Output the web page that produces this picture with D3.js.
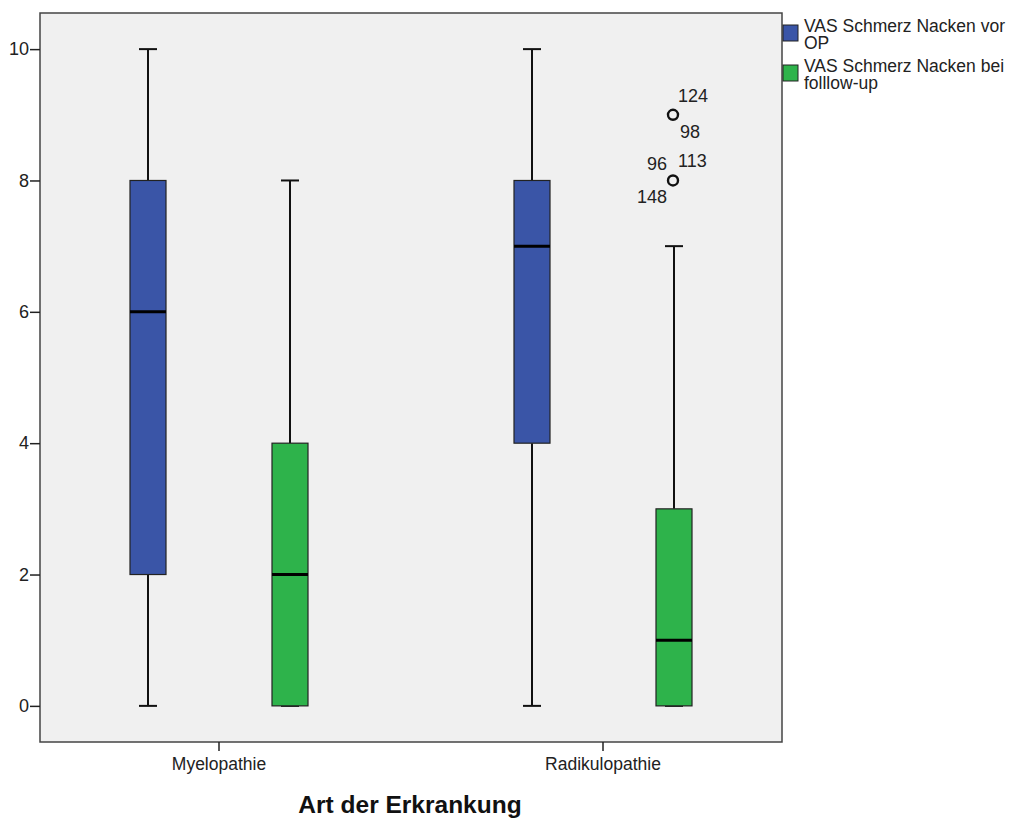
<!DOCTYPE html>
<html><head><meta charset="utf-8">
<script src="https://cdn.jsdelivr.net/npm/d3@7"></script>
<style>body{margin:0;background:#fff;}svg{display:block;font-family:Arial,"Liberation Sans",sans-serif;}</style>
</head><body>
<svg id="c" width="1019" height="819"></svg>
<script>
const categories = ["Myelopathie", "Radikulopathie"];
const seriesNames = ["VAS Schmerz Nacken vor OP", "VAS Schmerz Nacken bei folllow-up"];
const seriesColors = ["#3A55A7", "#2EB34B"];
// [min, q1, median, q3, max] per category
const vorOP = [[0, 2, 6, 8, 10], [0, 4, 7, 8, 10]];
const followUp = [[0, 0, 2, 4, 8], [0, 0, 1, 3, 7]];
const outliers = [
  {cat: "Radikulopathie", series: 1, value: 9, labels: ["124", "98"]},
  {cat: "Radikulopathie", series: 1, value: 8, labels: ["96", "113", "148"]}
];
const yTicks = [0, 2, 4, 6, 8, 10];
const legendLines = [["VAS Schmerz Nacken vor", "OP"], ["VAS Schmerz Nacken bei", "folllow-up"]];

const svg = d3.select("#c");
const L = 40, T = 13, R = 782, B = 742;
const y = d3.scaleLinear().domain([-0.55, 10.55]).range([B, T]);
const x = d3.scaleBand().domain(categories).range([27, 795]).padding(0);
const sub = d3.scaleBand().domain([0, 1]).range([-142, 142]).paddingInner(0).paddingOuter(0);

svg.append("rect").attr("x", L).attr("y", T).attr("width", R - L).attr("height", B - T)
  .attr("fill", "#F0F0F0").attr("stroke", "#444").attr("stroke-width", 1.5);

// y axis
const yAxis = d3.axisLeft(y).tickValues(yTicks).tickSize(10).tickPadding(1).tickSizeOuter(0).tickFormat(d3.format("d"));
const gy = svg.append("g").attr("transform", `translate(${L},0)`).call(yAxis);
gy.select(".domain").remove();
gy.selectAll("line").attr("stroke", "#222").attr("stroke-width", 1.5);
gy.selectAll("text").attr("font-size", 18).attr("fill", "#222").attr("font-family", "Arial, 'Liberation Sans', sans-serif");

// x axis
const xAxis = d3.axisBottom(x).tickSize(9).tickSizeOuter(0);
const gx = svg.append("g").attr("transform", `translate(0,${B})`).call(xAxis);
gx.select(".domain").remove();
gx.selectAll("line").attr("stroke", "#222").attr("stroke-width", 1.5);
gx.selectAll("text").attr("font-size", 17.5).attr("fill", "#222").attr("y", 28).attr("dy", 0).attr("font-family", "Arial, 'Liberation Sans', sans-serif");

svg.append("text").attr("x", 410).attr("y", 813).attr("text-anchor", "middle")
  .attr("font-size", 24.5).attr("font-weight", "bold").attr("fill", "#111").text("Art der Erkrankung");

const boxW = 36, capW = 18;
[vorOP, followUp].forEach((series, si) => {
  series.forEach((s, ci) => {
    const cx = x(categories[ci]) + x.bandwidth() / 2 + sub(si) + sub.bandwidth() / 2;
    const g = svg.append("g");
    g.append("line").attr("x1", cx).attr("x2", cx).attr("y1", y(s[0])).attr("y2", y(s[1])).attr("stroke", "#111").attr("stroke-width", 2);
    g.append("line").attr("x1", cx).attr("x2", cx).attr("y1", y(s[3])).attr("y2", y(s[4])).attr("stroke", "#111").attr("stroke-width", 2);
    g.append("line").attr("x1", cx - capW / 2).attr("x2", cx + capW / 2).attr("y1", y(s[0])).attr("y2", y(s[0])).attr("stroke", "#111").attr("stroke-width", 2);
    g.append("line").attr("x1", cx - capW / 2).attr("x2", cx + capW / 2).attr("y1", y(s[4])).attr("y2", y(s[4])).attr("stroke", "#111").attr("stroke-width", 2);
    g.append("rect").attr("x", cx - boxW / 2).attr("y", y(s[3])).attr("width", boxW).attr("height", y(s[1]) - y(s[3]))
      .attr("fill", seriesColors[si]).attr("stroke", "#222").attr("stroke-width", 1.2);
    g.append("line").attr("x1", cx - boxW / 2).attr("x2", cx + boxW / 2).attr("y1", y(s[2])).attr("y2", y(s[2])).attr("stroke", "#000").attr("stroke-width", 3);
  });
});

// outliers
outliers.forEach(o => {
  const cx = x(o.cat) + x.bandwidth() / 2 + sub(o.series) + sub.bandwidth() / 2 - 1;
  const cy = y(o.value);
  svg.append("circle").attr("cx", cx).attr("cy", cy).attr("r", 5).attr("fill", "none").attr("stroke", "#111").attr("stroke-width", 2.4);
  const pos = o.labels.length === 2
    ? [[5, -13, "start"], [7, 23, "start"]]
    : [[-6, -10, "end"], [5, -13, "start"], [-6, 23, "end"]];
  o.labels.forEach((lab, i) => {
    svg.append("text").attr("x", cx + pos[i][0]).attr("y", cy + pos[i][1]).attr("text-anchor", pos[i][2])
      .attr("font-size", 18).attr("fill", "#222").text(lab);
  });
});

// legend
legendLines.forEach((lines, i) => {
  const ly = 25 + i * 40;
  svg.append("rect").attr("x", 783).attr("y", ly).attr("width", 15).attr("height", 16)
    .attr("fill", seriesColors[i]).attr("stroke", "#222").attr("stroke-width", 1);
  lines.forEach((t, j) => {
    svg.append("text").attr("x", 804).attr("y", ly + 7 + j * 16.5).attr("font-size", 17.5).attr("fill", "#222").text(t);
  });
});
</script>
</body></html>
